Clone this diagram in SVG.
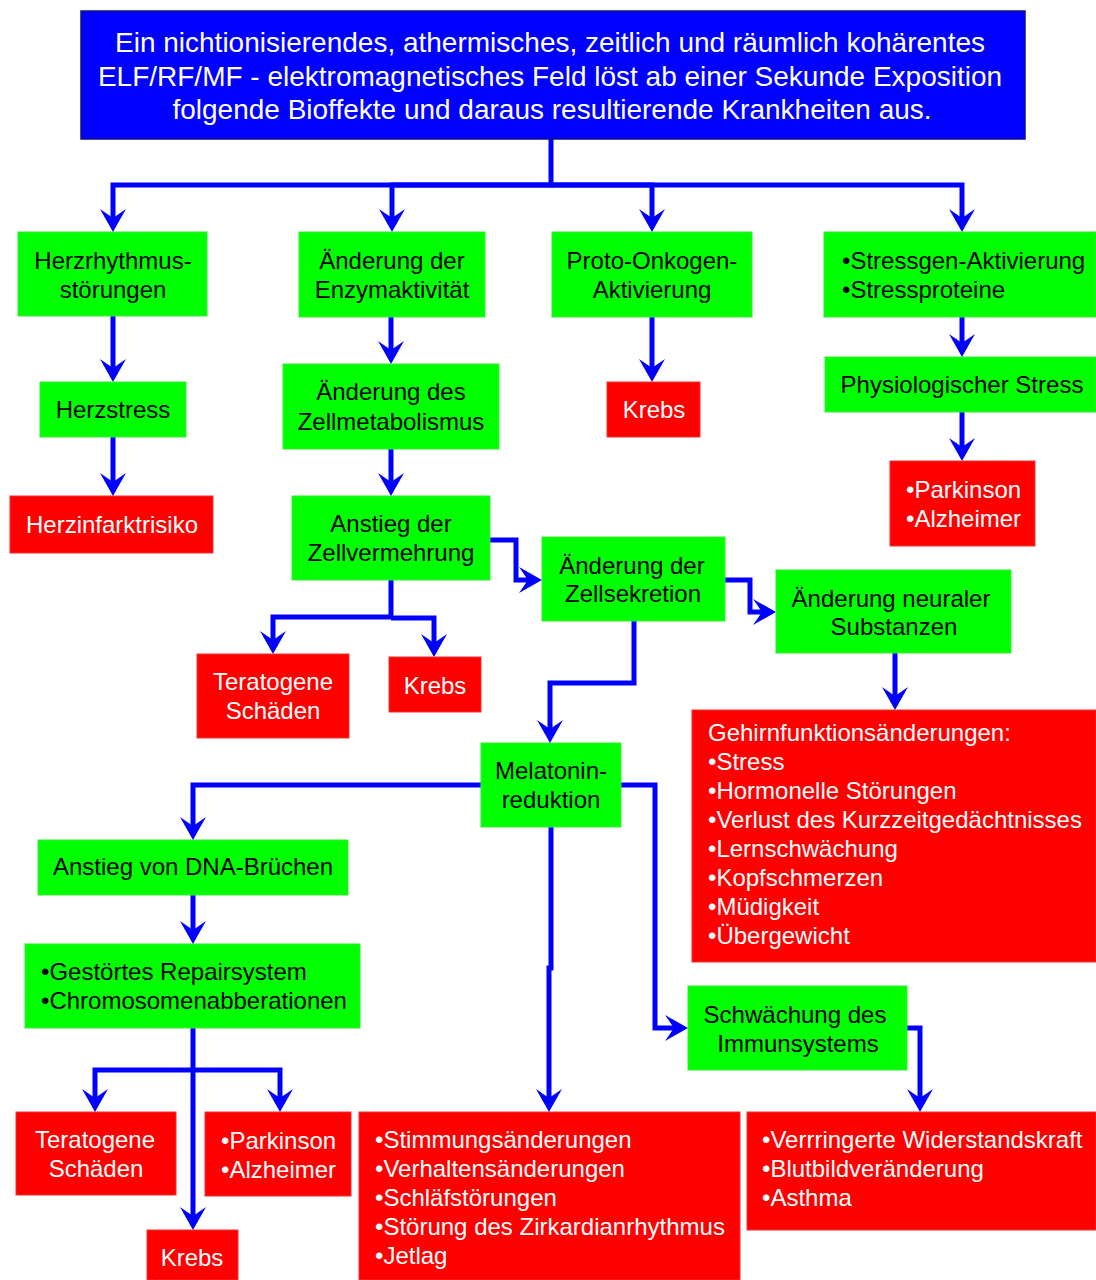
<svg xmlns="http://www.w3.org/2000/svg" width="1096" height="1280" viewBox="0 0 1096 1280">
<style>
  .g { fill: #00ff00; stroke: #33ee33; stroke-width: 1; }
  .r { fill: #ff0000; stroke: #ee3333; stroke-width: 1; }
  .top { fill: #0000ff; stroke: #10108a; stroke-width: 1.5; }
  text { font-family: "Liberation Sans", Arial, sans-serif; font-size: 24px; }
  .tb { fill: #000; }
  .tw { fill: #fff; }
  .tt { fill: #fff; font-size: 28px; }
  .m { text-anchor: middle; }
  .c { fill: none; stroke: #0000ff; stroke-width: 5; stroke-linejoin: miter; marker-end: url(#ah); }
</style>
<defs>
  <marker id="ah" markerUnits="userSpaceOnUse" markerWidth="40" markerHeight="40" orient="auto" refX="0" refY="0" viewBox="-20 -20 40 40" overflow="visible">
    <path d="M6,0 L-17,-13 L-8,0 L-17,13 Z" fill="#0000ff"/>
  </marker>
</defs>
<rect width="1096" height="1280" fill="#ffffff"/>

<g id="connectors">
  <path class="c" d="M551,139 V185 H113 V226"/>
  <path class="c" d="M551,185 H392 V226"/>
  <path class="c" d="M551,185 H652 V226"/>
  <path class="c" d="M551,185 H962 V226"/>
  <path class="c" d="M113,316 V376"/>
  <path class="c" d="M113,437 V490"/>
  <path class="c" d="M391,317 V358"/>
  <path class="c" d="M391,449 V490"/>
  <path class="c" d="M652,317 V376"/>
  <path class="c" d="M962,317 V351"/>
  <path class="c" d="M962,412 V455"/>
  <path class="c" d="M490,540 H516 V580 H536"/>
  <path class="c" d="M725,580 H750 V612 H770"/>
  <path class="c" d="M391,580 V617 H273 V648"/>
  <path class="c" d="M391,618 H434 V651"/>
  <path class="c" d="M634,621 V683 H550 V737"/>
  <path class="c" d="M895,653 V704"/>
  <path class="c" d="M481,785 H193 V834"/>
  <path class="c" d="M621,785 H655 V1028 H682"/>
  <path class="c" d="M551,827 V968 H549 V1106"/>
  <path class="c" d="M193,895 V938"/>
  <path class="c" d="M193,1028 V1224"/>
  <path class="c" d="M193,1070 H95 V1106"/>
  <path class="c" d="M193,1070 H280 V1106"/>
  <path class="c" d="M907,1028 H920 V1106"/>
</g>

<g id="top">
  <rect class="top" x="81" y="11" width="944" height="128"/>
  <text class="tt m" x="550" y="52">Ein nichtionisierendes, athermisches, zeitlich und räumlich kohärentes</text>
  <text class="tt m" x="550" y="86">ELF/RF/MF - elektromagnetisches Feld löst ab einer Sekunde Exposition</text>
  <text class="tt m" x="552" y="119">folgende Bioffekte und daraus resultierende Krankheiten aus.</text>
</g>

<g id="herzrhythmus">
  <rect class="g" x="18" y="232" width="189" height="84"/>
  <text class="tb m" x="113" y="269">Herzrhythmus-</text>
  <text class="tb m" x="113" y="298">störungen</text>
</g>
<g id="enzym">
  <rect class="g" x="299" y="232" width="186" height="85"/>
  <text class="tb m" x="392" y="269">Änderung der</text>
  <text class="tb m" x="392" y="298">Enzymaktivität</text>
</g>
<g id="proto">
  <rect class="g" x="552" y="232" width="200" height="85"/>
  <text class="tb m" x="652" y="269">Proto-Onkogen-</text>
  <text class="tb m" x="652" y="298">Aktivierung</text>
</g>
<g id="stressgen">
  <rect class="g" x="824" y="232" width="272" height="85"/>
  <text class="tb" x="842" y="269">•Stressgen-Aktivierung</text>
  <text class="tb" x="842" y="298">•Stressproteine</text>
</g>
<g id="herzstress">
  <rect class="g" x="40" y="382" width="146" height="55"/>
  <text class="tb m" x="113" y="418">Herzstress</text>
</g>
<g id="herzinfarkt">
  <rect class="r" x="10" y="496" width="203" height="57"/>
  <text class="tw m" x="112" y="533">Herzinfarktrisiko</text>
</g>
<g id="zellmetabolismus">
  <rect class="g" x="283" y="364" width="216" height="85"/>
  <text class="tb m" x="391" y="400">Änderung des</text>
  <text class="tb m" x="391" y="430">Zellmetabolismus</text>
</g>
<g id="krebs1">
  <rect class="r" x="607" y="382" width="93" height="55"/>
  <text class="tw m" x="654" y="418">Krebs</text>
</g>
<g id="physio">
  <rect class="g" x="825" y="357" width="271" height="55"/>
  <text class="tb m" x="962" y="393">Physiologischer Stress</text>
</g>
<g id="parkinson1">
  <rect class="r" x="890" y="461" width="145" height="85"/>
  <text class="tw" x="906" y="498">•Parkinson</text>
  <text class="tw" x="906" y="527">•Alzheimer</text>
</g>
<g id="zellvermehrung">
  <rect class="g" x="292" y="496" width="198" height="84"/>
  <text class="tb m" x="391" y="532">Anstieg der</text>
  <text class="tb m" x="391" y="561">Zellvermehrung</text>
</g>
<g id="zellsekretion">
  <rect class="g" x="542" y="537" width="183" height="84"/>
  <text class="tb m" x="632" y="574">Änderung der</text>
  <text class="tb m" x="633" y="602">Zellsekretion</text>
</g>
<g id="neural">
  <rect class="g" x="776" y="570" width="235" height="83"/>
  <text class="tb m" x="891" y="607">Änderung neuraler</text>
  <text class="tb m" x="894" y="635">Substanzen</text>
</g>
<g id="teratogene1">
  <rect class="r" x="197" y="654" width="152" height="84"/>
  <text class="tw m" x="273" y="690">Teratogene</text>
  <text class="tw m" x="273" y="719">Schäden</text>
</g>
<g id="krebs2">
  <rect class="r" x="389" y="657" width="92" height="55"/>
  <text class="tw m" x="435" y="694">Krebs</text>
</g>
<g id="gehirn">
  <rect class="r" x="692" y="710" width="404" height="252"/>
  <text class="tw" x="708" y="741">Gehirnfunktionsänderungen:</text>
  <text class="tw" x="708" y="770">•Stress</text>
  <text class="tw" x="708" y="799">•Hormonelle Störungen</text>
  <text class="tw" x="708" y="828">•Verlust des Kurzzeitgedächtnisses</text>
  <text class="tw" x="708" y="857">•Lernschwächung</text>
  <text class="tw" x="708" y="886">•Kopfschmerzen</text>
  <text class="tw" x="708" y="915">•Müdigkeit</text>
  <text class="tw" x="708" y="944">•Übergewicht</text>
</g>
<g id="melatonin">
  <rect class="g" x="481" y="743" width="140" height="84"/>
  <text class="tb m" x="551" y="779">Melatonin-</text>
  <text class="tb m" x="551" y="808">reduktion</text>
</g>
<g id="dna">
  <rect class="g" x="38" y="840" width="310" height="55"/>
  <text class="tb m" x="193" y="875">Anstieg von DNA-Brüchen</text>
</g>
<g id="repair">
  <rect class="g" x="25" y="944" width="335" height="84"/>
  <text class="tb" x="41" y="980">•Gestörtes Repairsystem</text>
  <text class="tb" x="41" y="1009">•Chromosomenabberationen</text>
</g>
<g id="immun">
  <rect class="g" x="688" y="986" width="219" height="84"/>
  <text class="tb m" x="795" y="1023">Schwächung des</text>
  <text class="tb m" x="798" y="1052">Immunsystems</text>
</g>
<g id="teratogene2">
  <rect class="r" x="16" y="1112" width="160" height="83"/>
  <text class="tw m" x="95" y="1148">Teratogene</text>
  <text class="tw m" x="96" y="1177">Schäden</text>
</g>
<g id="parkinson2">
  <rect class="r" x="205" y="1112" width="146" height="84"/>
  <text class="tw" x="221" y="1149">•Parkinson</text>
  <text class="tw" x="221" y="1178">•Alzheimer</text>
</g>
<g id="krebs3">
  <rect class="r" x="147" y="1230" width="91" height="50"/>
  <text class="tw m" x="192" y="1266">Krebs</text>
</g>
<g id="schlaf">
  <rect class="r" x="359" y="1112" width="381" height="168"/>
  <text class="tw" x="375" y="1148">•Stimmungsänderungen</text>
  <text class="tw" x="375" y="1177">•Verhaltensänderungen</text>
  <text class="tw" x="375" y="1206">•Schläfstörungen</text>
  <text class="tw" x="375" y="1235">•Störung des Zirkardianrhythmus</text>
  <text class="tw" x="375" y="1264">•Jetlag</text>
</g>
<g id="widerstand">
  <rect class="r" x="747" y="1112" width="349" height="118"/>
  <text class="tw" x="762" y="1148">•Verrringerte Widerstandskraft</text>
  <text class="tw" x="762" y="1177">•Blutbildveränderung</text>
  <text class="tw" x="762" y="1206">•Asthma</text>
</g>
</svg>
